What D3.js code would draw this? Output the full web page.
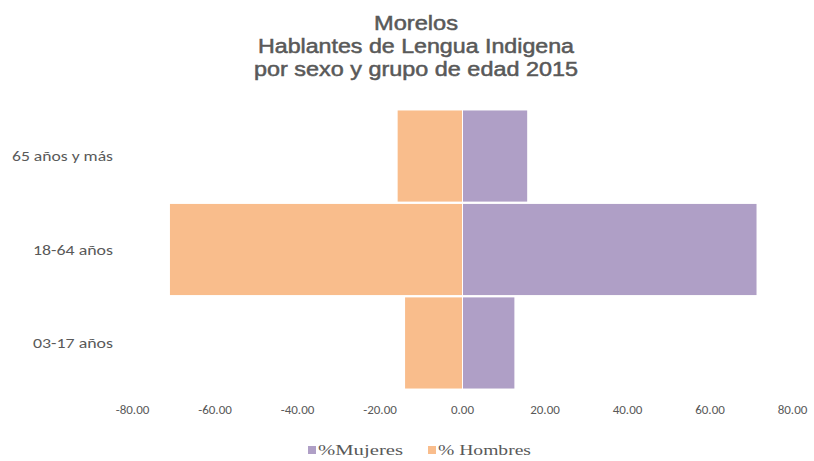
<!DOCTYPE html>
<html><head><meta charset="utf-8">
<script src="https://cdn.jsdelivr.net/npm/d3@7"></script>
<style>body{margin:0;background:#fff}svg{display:block}</style>
</head><body>
<svg id="c" width="814" height="461"></svg>
<script>
const categories = ["65 años y más", "18-64 años", "03-17 años"];
const mujeres = [15.8, 71.4, 12.7];
const hombres = [15.6, 70.8, 13.8];
const tickValues = [-80, -60, -40, -20, 0, 20, 40, 60, 80];
const titleLines = ["Morelos", "Hablantes de Lengua Indigena", "por sexo y grupo de edad 2015"];
const seriesNames = ["%Mujeres", "% Hombres"];
const colors = ["#AF9FC6", "#F9BD8C"];

const svg = d3.select("#c");
const x = d3.scaleLinear().domain([-80, 80]).range([132, 792]);
const y = d3.scaleBand().domain(categories).range([110, 389]).paddingInner(0.025).paddingOuter(0.005);

const titleW = [84, 316, 324];
svg.append("g").selectAll("text").data(titleLines).join("text")
  .attr("x", 416).attr("y", (d, i) => 30 + i * 23)
  .attr("text-anchor", "middle")
  .attr("font-family", "Liberation Sans, Arial, sans-serif")
  .attr("font-size", 20).attr("fill", "#595959")
  .attr("stroke", "#595959").attr("stroke-width", 0.5)
  .attr("textLength", (d, i) => titleW[i]).attr("lengthAdjust", "spacingAndGlyphs")
  .text(d => d);

// bars
svg.append("g").selectAll("rect").data(hombres).join("rect")
  .attr("x", d => x(-d)).attr("width", d => x(0) - x(-d))
  .attr("y", (d, i) => y(categories[i])).attr("height", y.bandwidth())
  .attr("fill", colors[1]);
svg.append("g").selectAll("rect").data(mujeres).join("rect")
  .attr("x", x(0) + 1).attr("width", d => x(d) - x(0) - 1)
  .attr("y", (d, i) => y(categories[i])).attr("height", y.bandwidth())
  .attr("fill", colors[0]);

// category labels
const catW = [101, 80, 80];
svg.append("g").selectAll("text").data(categories).join("text")
  .attr("x", 113).attr("y", d => y(d) + y.bandwidth() / 2 + 5)
  .attr("text-anchor", "end")
  .attr("font-family", "Carlito, Liberation Sans, sans-serif")
  .attr("font-size", 13.5).attr("fill", "#595959")
  .attr("textLength", (d, i) => catW[i]).attr("lengthAdjust", "spacingAndGlyphs")
  .text(d => d);

// x axis
const fmt = d3.format(".2f");
const xAxis = d3.axisBottom(x).tickValues(tickValues).tickSize(0)
  .tickFormat(d => fmt(d).replace("\u2212", "-"));
const ax = svg.append("g").attr("transform", "translate(0,402)").call(xAxis);
ax.select(".domain").remove();
ax.selectAll("text").attr("font-family", "Carlito, Liberation Sans, sans-serif")
  .attr("font-size", 13).attr("fill", "#595959");

// legend
const leg = svg.append("g").attr("transform", "translate(308,455)");
const items = [{n: seriesNames[0], c: colors[0], x: 0, w: 85}, {n: seriesNames[1], c: colors[1], x: 120, w: 93}];
items.forEach(it => {
  leg.append("rect").attr("x", it.x).attr("y", -9).attr("width", 8).attr("height", 8).attr("fill", it.c);
  leg.append("text").attr("x", it.x + 10).attr("y", 0)
    .attr("font-family", "Liberation Serif, Times New Roman, serif")
    .attr("font-size", 15).attr("fill", "#595959")
    .attr("textLength", it.w).attr("lengthAdjust", "spacingAndGlyphs")
    .text(it.n);
});
</script>
</body></html>
